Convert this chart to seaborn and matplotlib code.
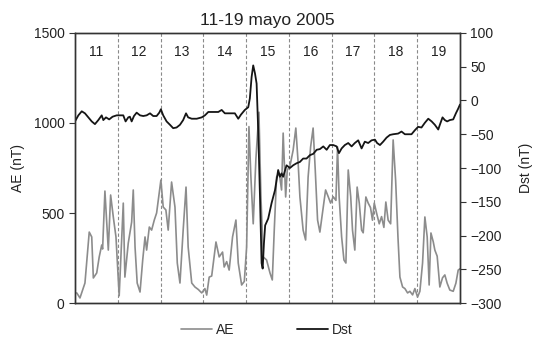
import matplotlib
matplotlib.use("Agg")
import matplotlib.pyplot as plt
import seaborn as sns
import pandas as pd

# ---- data (hours since 00 UT, 11 May 2005) ----
ae_hours = [1.0, 2.8, 5.6, 8.0, 9.4, 10.3, 12.2, 13.6, 15.0, 15.5, 16.8, 18.7, 20.0, 21.5, 23.0,
            24.8, 27.1, 28.0, 29.9, 31.8, 32.7, 33.7, 34.9, 36.5, 38.0, 39.3, 40.2, 41.7, 43.0,
            44.5, 45.8, 48.2, 49.5, 51.0, 52.3, 54.2, 56.1, 57.4, 58.9, 60.7, 62.3, 63.5, 65.5,
            67.3, 69.2, 71.1, 72.9, 73.9, 75.3, 76.7, 79.1, 80.9, 82.8, 83.7, 85.1, 86.5, 88.4,
            90.3, 91.6, 93.5, 95.0, 96.3, 97.6, 98.7, 100.0, 101.5, 103.2, 104.3, 105.6, 107.5,
            109.4, 110.7, 111.8, 113.1, 114.6, 115.9, 116.8, 118.2, 119.1, 120.6, 122.4, 123.9,
            125.2, 126.2, 128.0, 129.4, 130.8, 132.2, 133.6, 134.8, 136.1, 137.4, 139.3, 140.6,
            142.1, 143.4, 144.9, 146.4, 147.3, 148.2, 149.6, 150.9, 152.0, 153.3, 154.7, 155.7,
            157.0, 158.3, 159.5, 160.8, 161.7, 163.2, 164.5, 165.8, 166.9, 167.9, 169.2, 170.7,
            172.0, 173.3, 174.4, 175.7, 177.1, 178.5, 179.9, 181.2, 182.3, 183.8, 185.1, 186.6,
            187.9, 189.4, 190.7, 192.2, 193.5, 195.0, 196.3, 197.6, 198.7, 199.7, 201.0, 201.9,
            203.2, 204.7, 206.2, 207.5, 208.8, 210.3, 212.2, 213.7, 215.0, 216.0]
ae_values = [56, 28, 111, 394, 367, 139, 167, 256, 322, 300, 622, 294, 600, 478, 367,
             40, 555, 144, 333, 450, 628, 311, 111, 61, 239, 367, 294, 422, 405,
             461, 500, 683, 533, 517, 405, 672, 533, 222, 111, 405, 644, 311, 111,
             89, 75, 56, 80, 44, 144, 150, 339, 256, 283, 200, 230, 183, 367,
             461, 222, 100, 120, 311, 980, 700, 440, 800, 1060, 600, 256, 239,
             167, 128, 405, 700, 720, 628, 944, 589, 739, 760, 850, 972,
             778, 589, 405, 350, 700, 867, 972, 739, 461, 394, 533, 628,
             590, 555, 590, 570, 867, 590, 367, 239, 222, 739, 590, 405,
             294, 644, 555, 405, 390, 589, 555, 530, 460, 555, 500, 440,
             480, 420, 561, 460, 440, 906, 680, 367, 144, 89, 80, 56,
             65, 45, 80, 33, 65, 222, 478, 367, 100, 389, 340, 294,
             260, 89, 140, 156, 110, 72, 65, 110, 183, 190]

dst_hours = [0.0, 1.9, 3.8, 5.6, 7.5, 9.4, 11.2, 13.1, 15.0, 15.9, 17.4, 19.2, 21.1, 23.4,
             25.2, 27.1, 28.4, 29.9, 30.8, 31.8, 33.1, 34.6, 36.5, 38.3, 40.2, 42.1, 43.9,
             45.8, 47.3, 48.2, 49.5, 51.4, 53.3, 55.1, 57.0, 58.9, 60.7, 62.3, 63.5, 65.5,
             68.3, 71.1, 72.9, 74.8, 77.6, 80.4, 82.3, 84.1, 86.9, 89.7, 91.6, 93.1, 95.3,
             97.2, 98.1, 99.1, 100.0, 101.0, 101.9, 102.8, 103.8, 104.7, 105.3, 106.0, 106.7,
             108.4, 110.3, 112.2, 114.0, 115.0, 115.9, 116.8, 118.7, 120.6, 122.4, 124.3,
             126.2, 128.0, 129.9, 131.8, 133.7, 135.6, 137.4, 139.3, 141.2, 143.0, 144.9,
             146.8, 148.1, 149.6, 151.4, 153.3, 155.2, 157.0, 158.9, 160.8, 162.6, 164.5,
             166.4, 168.3, 169.5, 171.1, 172.9, 174.8, 176.7, 178.5, 181.3, 183.2, 185.1,
             186.9, 188.8, 190.7, 192.5, 194.4, 196.3, 198.2, 200.1, 201.9, 203.8, 204.7,
             206.2, 207.5, 208.8, 210.3, 212.2, 213.7, 215.0, 216.0]
dst_values = [-31, -22, -16, -19, -25, -31, -35, -29, -22, -29, -25, -28, -24, -22,
              -22, -22, -31, -25, -24, -31, -23, -18, -22, -23, -22, -19, -23,
              -23, -18, -13, -22, -31, -36, -41, -40, -36, -29, -19, -25, -27,
              -27, -25, -22, -17, -17, -17, -14, -19, -19, -19, -27, -21, -14,
              -10, 3, 35, 52, 40, 25, -44, -143, -241, -249, -212, -185,
              -175, -152, -133, -103, -113, -108, -113, -96, -100, -96, -93,
              -91, -86, -86, -81, -79, -73, -72, -68, -73, -66, -66,
              -68, -78, -71, -66, -63, -68, -63, -59, -71, -61, -63,
              -59, -58, -63, -66, -61, -55, -51, -50, -49, -46, -50,
              -50, -50, -44, -39, -40, -33, -27, -31, -36, -43, -36,
              -25, -29, -31, -29, -28, -19, -12, -6]

day_labels = ["11", "12", "13", "14", "15", "16", "17", "18", "19"]
title_text = "11-19 mayo 2005"

ae_df = pd.DataFrame({"day": [h / 24 for h in ae_hours], "AE": ae_values})
dst_df = pd.DataFrame({"day": [h / 24 for h in dst_hours], "Dst": dst_values})

sns.set_style("white")
plt.rcParams["font.family"] = ["Liberation Sans", "DejaVu Sans"]

fig = plt.figure(figsize=(5.34, 3.47), dpi=100)
ax = fig.add_axes([0.1404, 0.1268, 0.7210, 0.7781])
ax2 = ax.twinx()

sns.lineplot(data=ae_df, x="day", y="AE", ax=ax, color="#8c8c8c", linewidth=1.2,
             label="AE", legend=False)
sns.lineplot(data=dst_df, x="day", y="Dst", ax=ax2, color="#151515", linewidth=1.3,
             label="Dst", legend=False)

ax.set_xlim(0, 9)
ax.set_ylim(0, 1500)
ax2.set_ylim(-300, 100)
ax.set_yticks([0, 500, 1000, 1500])
ax2.set_yticks(list(range(-300, 101, 50)))
ax.set_xticks(range(10))
ax.set_xticklabels([])
ax.set_xlabel("")
ax.tick_params(axis="x", direction="in", length=3, width=0.8, colors="#333333")
ax.tick_params(axis="y", direction="out", length=4, width=0.8, labelsize=10,
               colors="#333333", labelcolor="#222222", left=True)
ax2.tick_params(axis="y", direction="out", length=4, width=0.8, labelsize=10,
                colors="#333333", labelcolor="#222222", right=True)

for d in range(1, 9):
    ax.axvline(d, color="#8a8a8a", linestyle=(0, (3, 2)), linewidth=0.8, zorder=0)
for i, lab in enumerate(day_labels):
    ax.text(i + 0.5, 0.93, lab, transform=ax.get_xaxis_transform(), ha="center",
            va="center", fontsize=10, color="#222222")

for a in (ax, ax2):
    for s in a.spines.values():
        s.set_color("#333333")
        s.set_linewidth(1.0)
        s.set_visible(True)

ax.set_ylabel("AE (nT)", fontsize=10, color="#222222", labelpad=6)
ax2.set_ylabel("Dst (nT)", fontsize=10, color="#222222", labelpad=12)
ax.set_title(title_text, fontsize=12.5, color="#222222", pad=6)

h1, l1 = ax.get_legend_handles_labels()
h2, l2 = ax2.get_legend_handles_labels()
fig.legend(h1 + h2, l1 + l2, loc="center", bbox_to_anchor=(0.5, 0.048), ncol=2,
           frameon=False, fontsize=10, handlelength=2.2, columnspacing=4.5,
           handletextpad=0.3)

fig.savefig("out.png", dpi=100)
